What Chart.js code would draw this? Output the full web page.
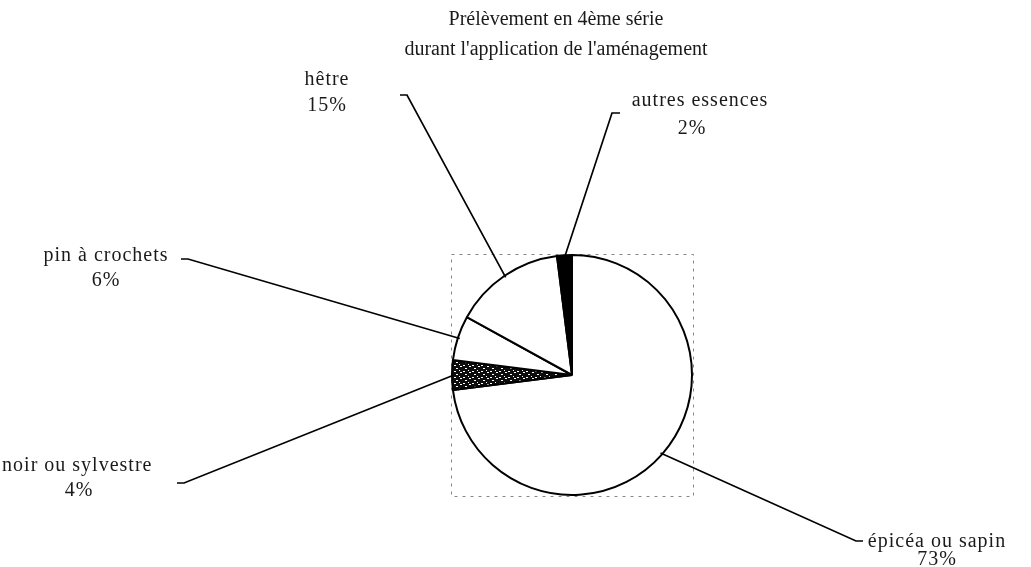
<!DOCTYPE html>
<html>
<head>
<meta charset="utf-8">
<script src="https://cdn.jsdelivr.net/npm/chart.js@4.4.1/dist/chart.umd.min.js"></script>
<style>
    html, body { margin: 0; padding: 0; background: #fff; }
    #wrap { width: 1031px; height: 567px; }
</style>
</head>
<body>
<div id="wrap"><canvas id="pieChart" width="1031" height="567"></canvas></div>
<script>
// Data
const categories = ["épicéa ou sapin", "pin noir ou sylvestre", "pin à crochets", "hêtre", "autres essences"];
const shares = [73, 4, 6, 15, 2];
const percentLabels = ["73%", "4%", "6%", "15%", "2%"];
const titleLines = ["Prélèvement en 4ème série", "durant l'application de l'aménagement"];

// where each label sits (text centres) and where its leader line starts
const labelLayout = [
    { x: 937, x2: 937, y1: 542, y2: 560, lineX: 856, lineY: 541, tick: 7 },
    { x: 60,  x2: 79,  y1: 466, y2: 491, lineX: 184, lineY: 483, tick: -7 },
    { x: 106, x2: 106, y1: 256, y2: 281, lineX: 188, lineY: 259, tick: -7 },
    { x: 327, x2: 327, y1: 80,  y2: 106, lineX: 407, lineY: 95,  tick: -7 },
    { x: 700, x2: 692, y1: 101, y2: 129, lineX: 612, lineY: 113, tick: 8 }
];

function makeHatch() {
    const c = document.createElement("canvas");
    c.width = 9; c.height = 6;
    const g = c.getContext("2d");
    g.fillStyle = "#0d0d0d";
    g.fillRect(0, 0, 9, 6);
    g.fillStyle = "#fff";
    g.fillRect(1, 0, 2, 1);
    g.fillRect(6, 2, 2, 1);
    g.fillRect(0, 4, 1, 1);
    g.fillRect(4, 5, 2, 1);
    return g.createPattern(c, "repeat");
}

const FONT = "20px 'Liberation Serif', 'Times New Roman', serif";

const annotations = {
    id: "annotations",
    beforeDatasetsDraw(chart) {
        const ctx = chart.ctx;
        const arc = chart.getDatasetMeta(0).data[0];
        const r = arc.outerRadius + 1;
        ctx.save();
        ctx.strokeStyle = "#888";
        ctx.lineWidth = 1;
        ctx.setLineDash([3, 5]);
        ctx.strokeRect(Math.round(arc.x - r) + 0.5, Math.round(arc.y - r) + 0.5, Math.round(2 * r), Math.round(2 * r));
        ctx.restore();
    },
    afterDatasetsDraw(chart) {
        const ctx = chart.ctx;
        const meta = chart.getDatasetMeta(0);
        ctx.save();
        ctx.strokeStyle = "#000";
        ctx.lineWidth = 1.7;
        meta.data.forEach((el, i) => {
            const p = labelLayout[i];
            const mid = (el.startAngle + el.endAngle) / 2;
            const ex = el.x + Math.cos(mid) * (el.outerRadius - 2);
            const ey = el.y + Math.sin(mid) * (el.outerRadius - 2);
            ctx.beginPath();
            ctx.moveTo(p.lineX + p.tick, p.lineY);
            ctx.lineTo(p.lineX, p.lineY);
            ctx.lineTo(ex, ey);
            ctx.stroke();
        });

        ctx.fillStyle = "#1a1a1a";
        ctx.font = FONT;
        ctx.textAlign = "center";
        ctx.textBaseline = "middle";
        ctx.fillText(titleLines[0], 556, 20);
        ctx.fillText(titleLines[1], 556, 50);
        ctx.letterSpacing = "1px";
        categories.forEach((name, i) => {
            const p = labelLayout[i];
            ctx.fillText(name, p.x, p.y1);
            ctx.fillText(percentLabels[i], p.x2, p.y2);
        });
        ctx.restore();
    }
};

const ctx = document.getElementById("pieChart").getContext("2d");
new Chart(ctx, {
    type: "pie",
    data: {
        labels: categories,
        datasets: [{
            data: shares,
            backgroundColor: ["#ffffff", makeHatch(), "#ffffff", "#ffffff", "#000000"],
            borderColor: "#000",
            borderWidth: 2
        }]
    },
    options: {
        responsive: false,
        animation: false,
        devicePixelRatio: 1,
        layout: { padding: { left: 451, right: 338, top: 254, bottom: 71 } },
        plugins: {
            legend: { display: false },
            tooltip: { enabled: false },
            title: { display: false }
        }
    },
    plugins: [annotations]
});
</script>
</body>
</html>
